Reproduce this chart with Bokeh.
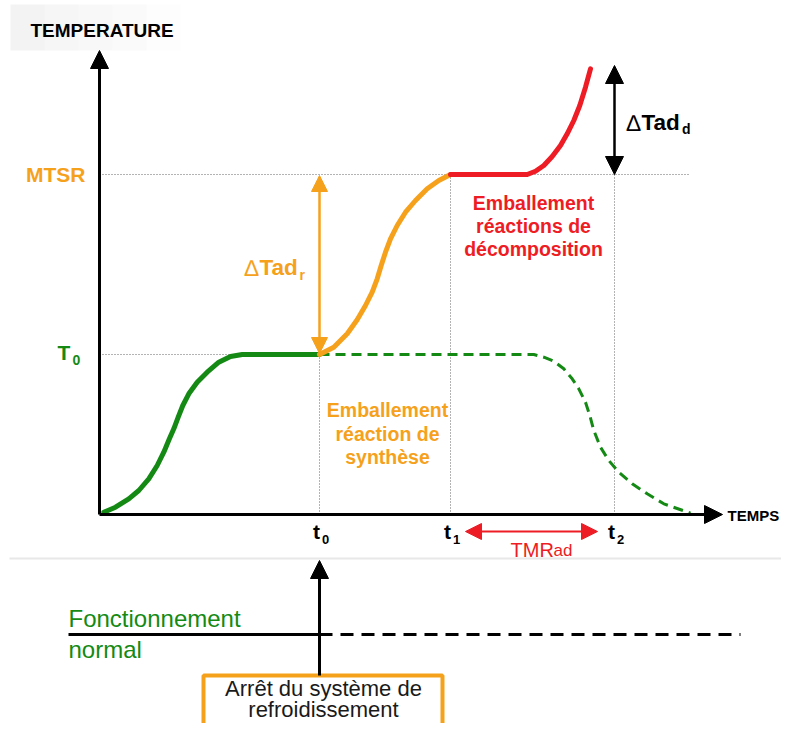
from bokeh.plotting import figure
from bokeh.models import Arrow, NormalHead, Range1d
from bokeh.core.properties import value
from bokeh.embed import file_html
from bokeh.resources import INLINE

# ---- data (time and temperature in arbitrary units) ----
T0 = 80
MTSR = 170
t_marks = [22.0, 35.1, 51.5]          # t0, t1, t2
t_labels = ["t", "t", "t"]
t_subs = ["0", "1", "2"]

# normal operation up to t0 (green, solid)
time_green = [0.43, 1.6, 2.93, 3.93, 4.93, 5.77, 6.43, 7.0, 7.43, 7.87, 8.33,
              8.93, 9.77, 10.77, 11.93, 13.1, 14.27, 22.0]
temp_green = [1.15, 3.65, 7.85, 12, 17.85, 24.5, 31.15, 38, 42.85, 48.65, 54.5,
              60.35, 66.15, 71.15, 76.15, 79, 80, 80]

# synthesis runaway (orange)
time_orange = [22.0, 23.43, 24.77, 25.77, 26.6, 27.27, 27.77, 28.17, 28.6, 29.1,
               29.77, 30.6, 31.6, 32.77, 33.93, 35.1]
temp_orange = [80, 83.65, 90.35, 97.35, 104.5, 111.15, 117.85, 124.5, 131.15,
               137.85, 144.5, 151.15, 157, 162.85, 167, 170]

# decomposition runaway (red)
time_red = [35.1, 42.77, 43.6, 44.43, 45.27, 46.1, 46.77, 47.43, 48.03, 48.6, 49.1]
temp_red = [170, 170, 171.65, 174.5, 179, 184.5, 190.35, 197, 204.5, 213.65, 222.85]

# cooling kept working (green, dashed)
time_dash = [22.0, 43.43, 44.43, 45.43, 46.43, 47.27, 47.93, 48.6, 49.03, 49.43,
             50.1, 50.93, 51.93, 53.27, 54.77, 56.43, 59.1]
temp_dash = [80, 80, 78.65, 76.65, 72.85, 67.85, 62.85, 56.15, 49.5, 42, 33.65,
             27, 21.15, 15.35, 10.35, 5.35, 0.65]

ORANGE = "#F6A11C"
GREEN = "#148A14"
RED = "#EE1C24"
FONT = value("Liberation Sans")

p = figure(width=781, height=723, x_range=Range1d(-9.9, 68.2),
           y_range=Range1d(-104.5, 257), output_backend="svg",
           toolbar_location=None, min_border=0, outline_line_color=None,
           background_fill_color="white")
p.axis.visible = False
p.grid.visible = False

# faint grey header band behind the y-axis title
for i, a in enumerate([0.10, 0.08, 0.06, 0.04, 0.02]):
    p.quad(left=[-8.9 + i * 3.4], right=[-8.9 + (i + 1) * 3.4], top=[255], bottom=[232],
           fill_color="#888888", fill_alpha=a, line_color=None)

# dotted reference lines
dot = dict(line_color="#666666", line_width=1, line_dash="1 2")
p.line([0, 58.9], [MTSR, MTSR], **dot)
p.line([0, t_marks[0]], [T0, T0], **dot)
p.line([t_marks[0], t_marks[0]], [0, T0], **dot)
p.line([t_marks[1], t_marks[1]], [0, MTSR], **dot)
p.line([t_marks[2], t_marks[2]], [0, 224.5], **dot)

# separator between the chart and the timeline
p.line([-9.0, 68.2], [-22, -22], line_color="#E8E8E8", line_width=2)

# axes with arrows
p.add_layout(Arrow(end=NormalHead(size=18, fill_color="black", line_color="black"),
                   x_start=0, y_start=0, x_end=62.3, y_end=0,
                   line_width=3, line_color="black"))
p.add_layout(Arrow(end=NormalHead(size=18, fill_color="black", line_color="black"),
                   x_start=0, y_start=0, x_end=0, y_end=232,
                   line_width=3, line_color="black"))

# curves
p.line(time_dash, temp_dash, line_color=GREEN, line_width=3, line_dash="10 6")
p.line(time_green, temp_green, line_color=GREEN, line_width=5,
       line_cap="round", line_join="round")
p.line(time_orange, temp_orange, line_color=ORANGE, line_width=5,
       line_cap="round", line_join="round")
p.line(time_red, temp_red, line_color=RED, line_width=5,
       line_cap="round", line_join="round")

# delta arrows
p.add_layout(Arrow(start=NormalHead(size=16, fill_color=ORANGE, line_color=ORANGE),
                   end=NormalHead(size=16, fill_color=ORANGE, line_color=ORANGE),
                   x_start=t_marks[0], y_start=T0 + 0.5, x_end=t_marks[0], y_end=MTSR - 0.5,
                   line_width=2.5, line_color=ORANGE))
p.add_layout(Arrow(start=NormalHead(size=18, fill_color="black", line_color="black"),
                   end=NormalHead(size=18, fill_color="black", line_color="black"),
                   x_start=t_marks[2], y_start=MTSR, x_end=t_marks[2], y_end=224.5,
                   line_width=2.5, line_color="black"))
p.add_layout(Arrow(start=NormalHead(size=16, fill_color=RED, line_color=RED),
                   end=NormalHead(size=16, fill_color=RED, line_color=RED),
                   x_start=36.6, y_start=-8.5, x_end=49.8, y_end=-8.5,
                   line_width=2, line_color=RED))

# lower timeline
p.line([-3.1, t_marks[0]], [-60, -60], line_color="black", line_width=3)
p.line([t_marks[0], 64.1], [-60, -60], line_color="black", line_width=3, line_dash="13 8")
p.add_layout(Arrow(end=NormalHead(size=18, fill_color="black", line_color="black"),
                   x_start=t_marks[0], y_start=-80.5, x_end=t_marks[0], y_end=-23,
                   line_width=3, line_color="black"))
p.quad(left=[10.4], right=[34.3], top=[-80.5], bottom=[-125],
       fill_color="white", line_color=ORANGE, line_width=4)


def txt(x, y, s, color="black", size="19px", style="bold", align="left",
        baseline="middle"):
    p.text(x=[x], y=[y], text=[s], text_color=color, text_font=FONT,
           text_font_size=size, text_font_style=style, text_align=align,
           text_baseline=baseline)


# axis titles
txt(-6.9, 242, "TEMPERATURE", size="19px")
txt(62.8, -0.5, "TEMPS", size="15px")

# y-level labels
txt(-1.4, MTSR, "MTSR", color=ORANGE, size="21px", align="right")
txt(-4.2, T0 + 1, "T", color=GREEN, size="21px")
txt(-2.7, T0 - 2.5, "0", color=GREEN, size="14px")

# time labels
for tm, lab, sub in zip(t_marks, t_labels, t_subs):
    txt(tm - 0.65, -8.5, lab, size="21px")
    txt(tm + 0.25, -12.5, sub, size="13px")

# delta labels (thin delta, bold "Tad", subscript)
txt(14.5, 123.5, "\u2206", color=ORANGE, size="23px", style="normal")
txt(16.0, 123.5, "Tad", color=ORANGE, size="22.5px")
txt(20.0, 120, "r", color=ORANGE, size="14px")
txt(52.7, 196, "\u2206", color="black", size="23px", style="normal")
txt(54.2, 196, "Tad", color="black", size="22.5px")
txt(58.25, 193, "d", color="black", size="14px")

# TMRad
txt(41.1, -17.5, "TMR", color=RED, size="20px", style="normal")
txt(45.4, -18.0, "ad", color=RED, size="17px", style="normal")

# region descriptions
for yy, s in zip([156, 144.5, 133], ["Emballement", "réactions de", "décomposition"]):
    txt(43.4, yy, s, color=RED, size="19.5px", align="center")
for yy, s in zip([52.5, 40.5, 29], ["Emballement", "réaction de", "synthèse"]):
    txt(28.8, yy, s, color=ORANGE, size="19.5px", align="center")

# timeline texts
txt(-3.1, -52, "Fonctionnement", color=GREEN, size="24px", style="normal")
txt(-3.1, -67.5, "normal", color=GREEN, size="24px", style="normal")
txt(22.4, -86.8, "Arrêt du système de", color="#1a1a1a", size="22px",
    style="normal", align="center")
txt(22.4, -97.6, "refroidissement", color="#1a1a1a", size="22px",
    style="normal", align="center")

open("out.html", "w").write(file_html(p, INLINE))
